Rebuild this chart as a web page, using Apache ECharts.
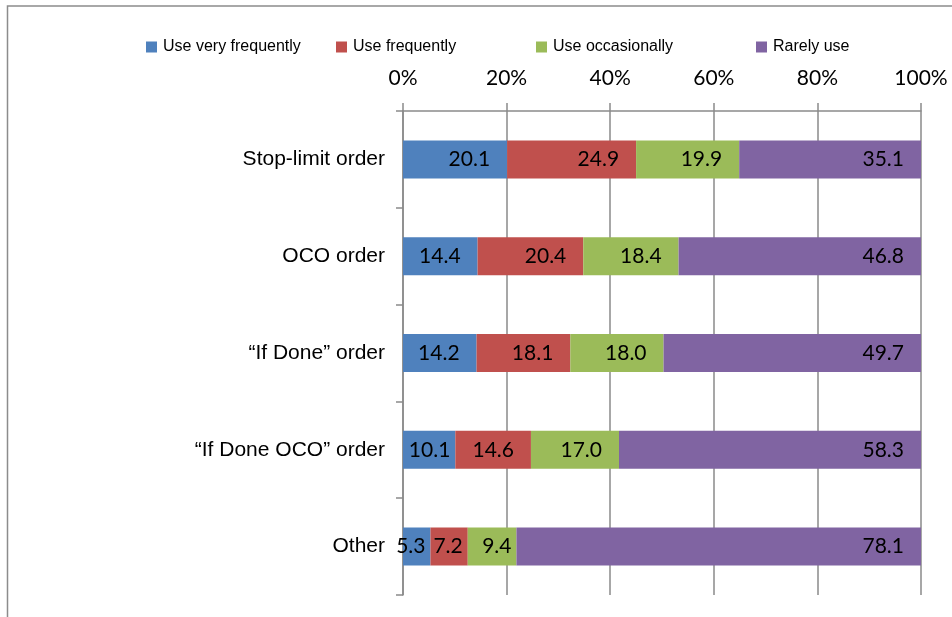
<!DOCTYPE html>
<html>
<head>
<meta charset="utf-8">
<script src="https://cdn.jsdelivr.net/npm/echarts@6/dist/echarts.min.js"></script>
<style>
html,body{margin:0;padding:0;background:#fff;}
#chart{width:952px;height:617px;}
</style>
</head>
<body>
<div id="chart"></div>
<script>
const categories = ['Stop-limit order', 'OCO order', '\u201CIf Done\u201D order', '\u201CIf Done OCO\u201D order', 'Other'];
const seriesNames = ['Use very frequently', 'Use frequently', 'Use occasionally', 'Rarely use'];
const veryFrequently = [20.1, 14.4, 14.2, 10.1, 5.3];
const frequently = [24.9, 20.4, 18.1, 14.6, 7.2];
const occasionally = [19.9, 18.4, 18.0, 17.0, 9.4];
const rarely = [35.1, 46.8, 49.7, 58.3, 78.1];
const xTicks = [0, 20, 40, 60, 80, 100];

const colors = ['#4F81BD', '#C0504D', '#9BBB59', '#8064A2'];
const values = [veryFrequently, frequently, occasionally, rarely];
const gridCol = '#8a8a8a';

const chart = echarts.init(document.getElementById('chart'), null, {renderer: 'canvas'});

const legendLefts = [141, 331, 531, 751];
const legends = seriesNames.map((n, i) => ({
  data: [n],
  left: legendLefts[i],
  top: 34,
  icon: 'rect',
  itemWidth: 11,
  itemHeight: 11,
  itemGap: 0,
  selectedMode: false,
  textStyle: {fontFamily: 'Liberation Sans', fontSize: 16, color: '#000', padding: [0, 0, 0, 1]}
}));

const series = values.map((arr, i) => ({
  name: seriesNames[i],
  type: 'bar',
  stack: 'total',
  barWidth: 38,
  itemStyle: {color: colors[i]},
  data: arr.map(v => ({
    value: v,
    label: {distance: v >= 12 ? 17 : 5}
  })),
  label: {
    show: true,
    position: 'insideRight',
    color: '#000',
    fontFamily: 'Lato',
    fontSize: 21,
    formatter: p => p.value.toFixed(1)
  }
}));

chart.setOption({
  animation: false,
  graphic: [{
    type: 'rect',
    shape: {x: 7.5, y: 6, width: 1000, height: 700},
    style: {fill: 'none', stroke: '#8c8c8c', lineWidth: 1.5},
    silent: true
  }],
  legend: legends,
  grid: {left: 403, right: 31, top: 111, bottom: 22, containLabel: false},
  xAxis: {
    type: 'value',
    position: 'top',
    min: 0,
    max: 100,
    interval: 20,
    axisLine: {show: true, lineStyle: {color: gridCol, width: 1.5}},
    axisTick: {show: true, length: 8, lineStyle: {color: gridCol, width: 1.5}},
    splitLine: {show: true, lineStyle: {color: gridCol, width: 1.5}},
    axisLabel: {
      margin: 22,
      color: '#000',
      fontFamily: 'Lato',
      fontSize: 21,
      formatter: v => xTicks.includes(v) ? v + '%' : ''
    }
  },
  yAxis: {
    type: 'category',
    inverse: true,
    data: categories,
    axisLine: {show: true, lineStyle: {color: gridCol, width: 1.5}},
    axisTick: {show: true, length: 7, alignWithLabel: false, lineStyle: {color: gridCol, width: 1.5}},
    splitLine: {show: false},
    axisLabel: {
      margin: 18,
      color: '#000',
      fontFamily: 'Liberation Sans',
      fontSize: 21
    }
  },
  series: series
});
</script>
</body>
</html>
